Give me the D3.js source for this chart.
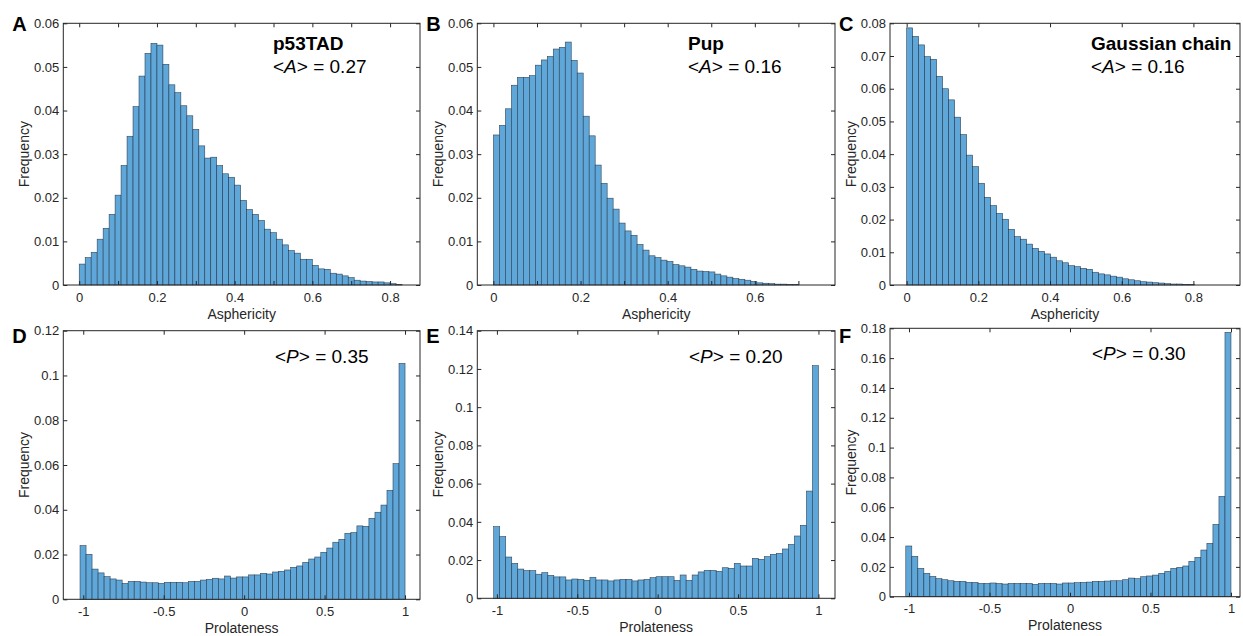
<!DOCTYPE html>
<html>
<head>
<meta charset="utf-8">
<script src="https://cdn.jsdelivr.net/npm/d3@7"></script>
<style>
  body { margin: 0; background: #fff; }
  svg { display: block; font-family: "Liberation Sans", Arial, Helvetica, sans-serif; }
</style>
</head>
<body>
<svg id="chart" width="1243" height="636"></svg>
<script>
// ---- data (bar heights) ----
const asphP53TAD = [0.0048, 0.0063, 0.0075, 0.0105, 0.0130, 0.0162, 0.0206, 0.0274, 0.0341, 0.0409,
  0.0479, 0.0531, 0.0554, 0.0550, 0.0506, 0.0459, 0.0441, 0.0411, 0.0388, 0.0357,
  0.0319, 0.0291, 0.0293, 0.0274, 0.0255, 0.0247, 0.0229, 0.0194, 0.0173, 0.0162,
  0.0148, 0.0128, 0.0120, 0.0105, 0.0092, 0.0079, 0.0073, 0.0059, 0.0059, 0.0045,
  0.0037, 0.0036, 0.0027, 0.0025, 0.0021, 0.0017, 0.0011, 0.0009, 0.0008, 0.0007,
  0.0007, 0.0005, 0.0003, 0.0001];
const asphPup = [0.0344, 0.0366, 0.0404, 0.0458, 0.0476, 0.0476, 0.0480, 0.0504, 0.0516, 0.0524,
  0.0541, 0.0545, 0.0557, 0.0515, 0.0486, 0.0387, 0.0342, 0.0275, 0.0233, 0.0199,
  0.0174, 0.0142, 0.0124, 0.0114, 0.0093, 0.0080, 0.0067, 0.0063, 0.0057, 0.0054,
  0.0047, 0.0044, 0.0041, 0.0036, 0.0032, 0.0031, 0.0030, 0.0025, 0.0021, 0.0018,
  0.0015, 0.0013, 0.0011, 0.0008, 0.0005, 0.0004, 0.0003, 0.0002, 0.0002, 0.0001,
  0.0001];
const asphGaussian = [0.0786, 0.0760, 0.0734, 0.0698, 0.0690, 0.0638, 0.0600, 0.0566, 0.0513, 0.0460,
  0.0397, 0.0362, 0.0311, 0.0268, 0.0243, 0.0219, 0.0201, 0.0170, 0.0148, 0.0140,
  0.0125, 0.0112, 0.0103, 0.0095, 0.0085, 0.0074, 0.0068, 0.0059, 0.0056, 0.0051,
  0.0048, 0.0039, 0.0034, 0.0031, 0.0027, 0.0024, 0.0019, 0.0016, 0.0013, 0.0010,
  0.0009, 0.0007, 0.0006, 0.0004, 0.0003, 0.0003, 0.0002, 0.0001];
const prolP53TAD = [0.0240, 0.0201, 0.0135, 0.0118, 0.0101, 0.0091, 0.0086, 0.0071, 0.0080, 0.0080,
  0.0077, 0.0074, 0.0074, 0.0071, 0.0076, 0.0076, 0.0076, 0.0074, 0.0080, 0.0080,
  0.0086, 0.0089, 0.0094, 0.0091, 0.0104, 0.0095, 0.0100, 0.0100, 0.0109, 0.0109,
  0.0116, 0.0113, 0.0122, 0.0125, 0.0131, 0.0143, 0.0149, 0.0165, 0.0180, 0.0189,
  0.0210, 0.0229, 0.0255, 0.0268, 0.0295, 0.0298, 0.0328, 0.0326, 0.0362, 0.0389,
  0.0421, 0.0487, 0.0606, 0.1054];
const prolPup = [0.0375, 0.0323, 0.0216, 0.0183, 0.0153, 0.0145, 0.0145, 0.0126, 0.0134, 0.0120,
  0.0112, 0.0112, 0.0096, 0.0101, 0.0099, 0.0094, 0.0110, 0.0096, 0.0096, 0.0091,
  0.0096, 0.0099, 0.0099, 0.0091, 0.0096, 0.0099, 0.0108, 0.0113, 0.0113, 0.0113,
  0.0094, 0.0122, 0.0094, 0.0122, 0.0138, 0.0146, 0.0146, 0.0141, 0.0160, 0.0157,
  0.0183, 0.0169, 0.0169, 0.0209, 0.0204, 0.0218, 0.0230, 0.0235, 0.0258, 0.0282,
  0.0326, 0.0382, 0.0561, 0.1217];
const prolGaussian = [0.0340, 0.0271, 0.0190, 0.0157, 0.0136, 0.0121, 0.0114, 0.0107, 0.0103, 0.0103,
  0.0096, 0.0096, 0.0089, 0.0089, 0.0092, 0.0089, 0.0085, 0.0089, 0.0089, 0.0089,
  0.0089, 0.0083, 0.0089, 0.0089, 0.0089, 0.0085, 0.0092, 0.0092, 0.0094, 0.0096,
  0.0098, 0.0103, 0.0103, 0.0105, 0.0107, 0.0107, 0.0114, 0.0125, 0.0121, 0.0134,
  0.0139, 0.0145, 0.0157, 0.0170, 0.0190, 0.0197, 0.0206, 0.0237, 0.0264, 0.0313,
  0.0358, 0.0485, 0.0673, 0.1773];

// tick values / labels
const asphTicks01 = [0, 0.1, 0.2, 0.3, 0.4, 0.5, 0.6, 0.7, 0.8];
const asphTickLabelsA = ["0", "", "0.2", "", "0.4", "", "0.6", "", "0.8"];
const asphTicksB = [0, 0.1, 0.2, 0.3, 0.4, 0.5, 0.6, 0.7];
const asphTickLabelsB = ["0", "", "0.2", "", "0.4", "", "0.6", ""];
const asphTicksC = [0, 0.2, 0.4, 0.6, 0.8];
const prolTicks = [-1, -0.5, 0, 0.5, 1];
const yTicksAsph = [0, 0.01, 0.02, 0.03, 0.04, 0.05, 0.06];
const yTicksGauss = [0, 0.01, 0.02, 0.03, 0.04, 0.05, 0.06, 0.07, 0.08];
const yTicksD = [0, 0.02, 0.04, 0.06, 0.08, 0.1, 0.12];
const yTicksE = [0, 0.02, 0.04, 0.06, 0.08, 0.1, 0.12, 0.14];
const yTicksF = [0, 0.02, 0.04, 0.06, 0.08, 0.1, 0.12, 0.14, 0.16, 0.18];

const fmt = v => String(parseFloat(v.toFixed(2)));

// ==================================================
// Panel setup
// ==================================================
const panels = [
  { letter: "A", values: asphP53TAD, binStart: 0, binWidth: 1 / 65,
    box: [63.3, 23.3, 420, 285], xDomain: [-0.041, 0.877], yDomain: [0, 0.06],
    xTicks: asphTicks01, xLabels: asphTickLabelsA, yTicks: yTicksAsph, xTitle: "Asphericity",
    title: "p53TAD", sym: "A", mean: "0.27", textX: 273, letterY: 31 },
  { letter: "B", values: asphPup, binStart: 0, binWidth: 0.01374,
    box: [477.3, 23.3, 835, 285], xDomain: [-0.037, 0.784], yDomain: [0, 0.06],
    xTicks: asphTicksB, xLabels: asphTickLabelsB, yTicks: yTicksAsph, xTitle: "Asphericity",
    title: "Pup", sym: "A", mean: "0.16", textX: 688, letterY: 31 },
  { letter: "C", values: asphGaussian, binStart: 0, binWidth: 0.01674,
    box: [890, 23.3, 1240, 285], xDomain: [-0.0465, 0.93], yDomain: [0, 0.08],
    xTicks: asphTicksC, xLabels: null, yTicks: yTicksGauss, xTitle: "Asphericity",
    title: "Gaussian chain", sym: "A", mean: "0.16", textX: 1091, letterY: 31 },
  { letter: "D", values: prolP53TAD, binStart: -1.02, binWidth: 2.02 / 54,
    box: [63.3, 330.7, 420, 599.3], xDomain: [-1.124, 1.093], yDomain: [0, 0.12],
    xTicks: prolTicks, xLabels: null, yTicks: yTicksD, xTitle: "Prolateness",
    title: null, sym: "P", mean: "0.35", textX: 275, letterY: 343 },
  { letter: "E", values: prolPup, binStart: -1.02, binWidth: 2.02 / 54,
    box: [477.3, 330.7, 835, 598.3], xDomain: [-1.122, 1.103], yDomain: [0, 0.14],
    xTicks: prolTicks, xLabels: null, yTicks: yTicksE, xTitle: "Prolateness",
    title: null, sym: "P", mean: "0.20", textX: 689, letterY: 343 },
  { letter: "F", values: prolGaussian, binStart: -1.02, binWidth: 2.02 / 54,
    box: [890, 328.3, 1240, 596.7], xDomain: [-1.118, 1.056], yDomain: [0, 0.18],
    xTicks: prolTicks, xLabels: null, yTicks: yTicksF, xTitle: "Prolateness",
    title: null, sym: "P", mean: "0.30", textX: 1092, letterY: 343 }
];

const svg = d3.select("#chart");
const axisColor = "#262626";
const barFill = "#60a7d9";
const barEdge = "#1d2e40";

panels.forEach(p => {
  const [x0, y0, x1, y1] = p.box;
  const x = d3.scaleLinear().domain(p.xDomain).range([x0, x1]);
  const y = d3.scaleLinear().domain(p.yDomain).range([y1, y0]);

  const g = svg.append("g");

  // bars
  g.selectAll("rect.bar")
    .data(p.values)
    .join("rect")
    .attr("class", "bar")
    .attr("x", (d, i) => x(p.binStart + i * p.binWidth))
    .attr("width", (d, i) => x(p.binStart + (i + 1) * p.binWidth) - x(p.binStart + i * p.binWidth))
    .attr("y", d => y(d))
    .attr("height", d => y(0) - y(d))
    .attr("fill", barFill)
    .attr("stroke", barEdge)
    .attr("stroke-width", 0.6)
    .attr("stroke-opacity", 0.85);

  const xFormat = p.xLabels ? ((d, i) => p.xLabels[i]) : fmt;

  // bottom + top
  const xb = g.append("g").attr("transform", `translate(0,${y1})`)
    .call(d3.axisBottom(x).tickValues(p.xTicks).tickFormat(xFormat)
      .tickSizeInner(-4).tickSizeOuter(0).tickPadding(7.5));
  const xt = g.append("g").attr("transform", `translate(0,${y0})`)
    .call(d3.axisTop(x).tickValues(p.xTicks).tickFormat("")
      .tickSizeInner(-4).tickSizeOuter(0));
  // left + right
  const yl = g.append("g").attr("transform", `translate(${x0},0)`)
    .call(d3.axisLeft(y).tickValues(p.yTicks).tickFormat(fmt)
      .tickSizeInner(-4).tickSizeOuter(0).tickPadding(4));
  const yr = g.append("g").attr("transform", `translate(${x1},0)`)
    .call(d3.axisRight(y).tickValues(p.yTicks).tickFormat("")
      .tickSizeInner(-4).tickSizeOuter(0));

  [xb, xt, yl, yr].forEach(a => {
    a.select(".domain").remove();
    a.selectAll("line").attr("stroke", axisColor).attr("stroke-width", 1);
    a.selectAll("text").attr("fill", axisColor)
      .style("font-size", "13px")
      .style("font-family", "'Liberation Sans', Arial, sans-serif");
  });

  // box
  g.append("rect")
    .attr("x", x0).attr("y", y0)
    .attr("width", x1 - x0).attr("height", y1 - y0)
    .attr("fill", "none")
    .attr("stroke", axisColor)
    .attr("stroke-width", 1);

  // axis titles
  g.append("text")
    .attr("x", (x0 + x1) / 2).attr("y", y1 + 33.5)
    .attr("text-anchor", "middle")
    .attr("fill", axisColor)
    .style("font-size", "14px")
    .text(p.xTitle);

  g.append("text")
    .attr("transform", `translate(${x0 - 34},${(y0 + y1) / 2}) rotate(-90)`)
    .attr("text-anchor", "middle")
    .attr("fill", axisColor)
    .style("font-size", "14px")
    .text("Frequency");

  // panel letter
  g.append("text")
    .attr("x", x0 - 51).attr("y", p.letterY)
    .attr("fill", "#000")
    .style("font-size", "20px")
    .style("font-weight", "bold")
    .text(p.letter);

  // annotation
  let meanY = y0 + 50;
  if (p.title) {
    g.append("text")
      .attr("x", p.textX).attr("y", y0 + 27)
      .attr("fill", "#000")
      .style("font-size", "19px")
      .style("font-weight", "bold")
      .text(p.title);
  } else {
    meanY = y0 + 32;
  }
  const t = g.append("text")
    .attr("x", p.textX).attr("y", meanY)
    .attr("fill", "#000")
    .style("font-size", "19px");
  t.append("tspan").text("<");
  t.append("tspan").style("font-style", "italic").text(p.sym);
  t.append("tspan").text("> = " + p.mean);
});
</script>
</body>
</html>
